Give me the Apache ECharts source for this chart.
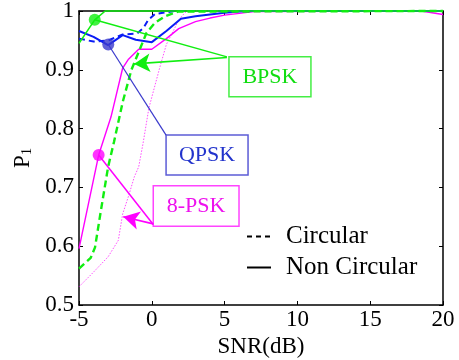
<!DOCTYPE html>
<html>
<head>
<meta charset="utf-8">
<script src="https://cdn.jsdelivr.net/npm/echarts@6/dist/echarts.min.js"></script>
<style>
html,body{margin:0;padding:0;background:#fff;}
#chart{width:459px;height:360px;}
</style>
</head>
<body>
<div id="chart"></div>
<script>
// ---- data (SNR in dB, probability P1) ----
var xTicks = [-5, 0, 5, 10, 15, 20];
var yTicks = [0.5, 0.6, 0.7, 0.8, 0.9, 1];

var bpskNcX = [-5, -3.92, -3.2, 20];
var bpskNcY = [0.945, 0.985, 1.0, 1.0];

var bpskCX = [-5, -4.2, -3.9, -3.5, -3, -2.6, -2, -1.4, -0.36, 0.22, 0.9, 1.8, 20];
var bpskCY = [0.562, 0.58, 0.598, 0.66, 0.735, 0.777, 0.845, 0.9, 0.963, 0.98, 0.991, 0.999, 1.0];

var qpskNcX = [-5, -4, -3, -2, -1.1, 0, 1, 2, 3, 4, 5, 6, 7, 20];
var qpskNcY = [0.966, 0.956, 0.942, 0.959, 0.951, 0.947, 0.966, 0.987, 0.991, 0.994, 0.997, 0.999, 1.0, 1.0];

var qpskCX = [-5, -4, -3, -2, -1, -0.58, -0.24, 0.22, 1.6, 20];
var qpskCY = [0.953, 0.948, 0.95, 0.96, 0.962, 0.971, 0.985, 0.995, 1.0, 1.0];

var psk8NcX = [-5, -3.65, -2.8, -2, -1.6, -0.9, 0, 1, 1.85, 3, 4, 5, 7, 18.5, 20];
var psk8NcY = [0.596, 0.755, 0.82, 0.903, 0.918, 0.935, 0.935, 0.953, 0.97, 0.982, 0.988, 0.993, 0.999, 1.0, 0.994];

var psk8CX = [-5, -4, -3, -2.3, -2, -1.6, -1.2, -0.9, -0.6, -0.2, 0.56, 1.0, 1.8, 2.05, 2.4, 20];
var psk8CY = [0.531, 0.556, 0.582, 0.61, 0.655, 0.685, 0.718, 0.735, 0.775, 0.835, 0.905, 0.943, 0.982, 0.991, 1.0, 1.0];

// annotation markers (data coords) and labels
var markerX = [-3.92, -2.99, -3.65];
var markerY = [0.985, 0.943, 0.755];
var boxLabels = ['BPSK', 'QPSK', '8-PSK'];
var boxX1 = [5.30, 0.98, 0.10];
var boxX2 = [10.93, 6.61, 5.99];
var boxY1 = [0.922, 0.789, 0.703];
var boxY2 = [0.854, 0.721, 0.634];
// callout arrows: from box to curve
var arrowFromX = [5.16, 0.10];
var arrowFromY = [0.921, 0.638];
var arrowToX = [-1.22, -1.96];
var arrowToY = [0.91, 0.650];
var legendNames = ['Circular', 'Non Circular'];

function zip(xs, ys) { return xs.map(function (x, i) { return [x, ys[i]]; }); }

var GREEN = '#11ee11', BLUE = '#0a1cf5', MAG = '#ff00ff';
var FONT = '"Liberation Serif", "Times New Roman", serif';

var chart = echarts.init(document.getElementById('chart'), null, {renderer: 'canvas'});

function curve(name, xs, ys, color, width, type, z) {
  return {
    name: name, type: 'line', data: zip(xs, ys), symbol: 'none', clip: false,
    lineStyle: {color: color, width: width, type: type}, itemStyle: {color: color},
    z: z, silent: true, animation: false
  };
}

var series = [
  curve('8PSK C', psk8CX, psk8CY, MAG, 0.7, [1.5, 1.5], 3),
  curve('8PSK NC', psk8NcX, psk8NcY, MAG, 1.4, 'solid', 4),
  curve('QPSK NC', qpskNcX, qpskNcY, BLUE, 2, 'solid', 5),
  curve('QPSK C', qpskCX, qpskCY, BLUE, 2, [6, 4], 5),
  curve('BPSK C', bpskCX, bpskCY, GREEN, 2.4, [7, 4], 6),
  curve('BPSK NC', bpskNcX, bpskNcY, GREEN, 1.6, 'solid', 7)
];

var calloutColors = [GREEN, '#3a3acc', MAG];
var calloutWidths = [1.5, 1.2, 1.5];
var boxBorder = ['#44ee44', '#5c5cd6', '#ff44ff'];
var boxText = ['#11dd11', '#2233cc', '#ee11ee'];

// callout lines marker -> box corner
for (var i = 0; i < 3; i++) {
  var corner = (i === 0) ? [boxX1[0] - 0.14, boxY1[0]] : (i === 1 ? [boxX1[1], boxY1[1]] : [boxX1[2], boxY2[2] + 0.003]);
  series.push({
    type: 'line', data: [[markerX[i], markerY[i]], corner], symbol: 'none', clip: false,
    lineStyle: {color: calloutColors[i], width: calloutWidths[i]}, z: 8, silent: true, animation: false
  });
}
// arrows
var arrowColors = [GREEN, MAG];
for (var j = 0; j < 2; j++) {
  series.push({
    type: 'line', data: [], silent: true, animation: false,
    markLine: {
      silent: true, animation: false, symbol: ['none', 'arrow'], symbolSize: [14, 16],
      label: {show: false},
      lineStyle: {color: arrowColors[j], width: 1.6, type: 'solid'},
      data: [[{coord: [arrowFromX[j], arrowFromY[j]]}, {coord: [arrowToX[j], arrowToY[j]]}]]
    }
  });
}
// boxes
for (var k = 0; k < 3; k++) {
  series.push({
    type: 'line', data: [], silent: true, animation: false, z: 9,
    markArea: {
      silent: true, animation: false,
      itemStyle: {color: '#ffffff', borderColor: boxBorder[k], borderWidth: 1.5},
      label: {show: true, position: 'inside', color: boxText[k], fontFamily: FONT, fontSize: 22},
      data: [[{name: boxLabels[k], coord: [boxX1[k], boxY1[k]]}, {coord: [boxX2[k], boxY2[k]]}]]
    }
  });
}
// markers
series.push({
  type: 'scatter', data: zip(markerX, markerY).map(function (p, i) {
    return {value: p, itemStyle: {color: calloutColors[i]}};
  }), symbolSize: 12, z: 12, silent: true, animation: false, clip: false
});
// legend dummies
series.push({name: legendNames[0], type: 'line', data: [], symbol: 'none', lineStyle: {color: '#000', width: 1.3, type: [5, 4]}, itemStyle: {color: '#000'}});
series.push({name: legendNames[1], type: 'line', data: [], symbol: 'none', lineStyle: {color: '#000', width: 1.3, type: 'solid'}, itemStyle: {color: '#000'}});

var axisCommon = {
  axisLine: {show: true, onZero: false, lineStyle: {color: '#000', width: 1.5}},
  axisTick: {show: true, inside: true, length: 4, lineStyle: {color: '#000', width: 1}},
  splitLine: {show: false}
};

var option = {
  animation: false,
  backgroundColor: '#fff',
  textStyle: {fontFamily: FONT},
  grid: {left: 79, right: 16, top: 11, bottom: 55, containLabel: false, outerBoundsMode: 'none'},
  legend: {
    data: legendNames, orient: 'vertical', left: 241, top: 219, itemWidth: 24, itemHeight: 12, itemGap: 6,
    itemStyle: {opacity: 0},
    textStyle: {fontFamily: FONT, fontSize: 25, color: '#000', padding: [0, 0, 0, 10]},
    selectedMode: false
  },
  xAxis: [
    Object.assign({
      type: 'value', min: xTicks[0], max: xTicks[xTicks.length - 1], interval: 5, position: 'bottom',
      name: 'SNR(dB)', nameLocation: 'middle', nameGap: 25,
      nameTextStyle: {fontFamily: FONT, fontSize: 23, color: '#000'},
      axisLabel: {fontFamily: FONT, fontSize: 23, color: '#000', margin: 3}
    }, axisCommon),
    Object.assign({
      type: 'value', min: xTicks[0], max: xTicks[xTicks.length - 1], interval: 5, position: 'top',
      axisLabel: {show: false}
    }, axisCommon)
  ],
  yAxis: [
    Object.assign({
      type: 'value', min: yTicks[0], max: yTicks[yTicks.length - 1], interval: 0.1, position: 'left',
      name: '{p|P}{s|1}', nameLocation: 'middle', nameGap: 42, nameRotate: 90,
      nameTextStyle: {color: '#000', rich: {
        p: {fontFamily: FONT, fontSize: 23, color: '#000'},
        s: {fontFamily: FONT, fontSize: 14, color: '#000', verticalAlign: 'bottom', padding: [8, 0, 0, 0]}
      }},
      axisLabel: {fontFamily: FONT, fontSize: 23, color: '#000', margin: 5,
        formatter: function (v) { return String(Math.round(v * 10) / 10); }}
    }, axisCommon),
    Object.assign({
      type: 'value', min: yTicks[0], max: yTicks[yTicks.length - 1], interval: 0.1, position: 'right',
      axisLabel: {show: false}
    }, axisCommon)
  ],
  series: series
};
chart.setOption(option);
</script>
</body>
</html>
